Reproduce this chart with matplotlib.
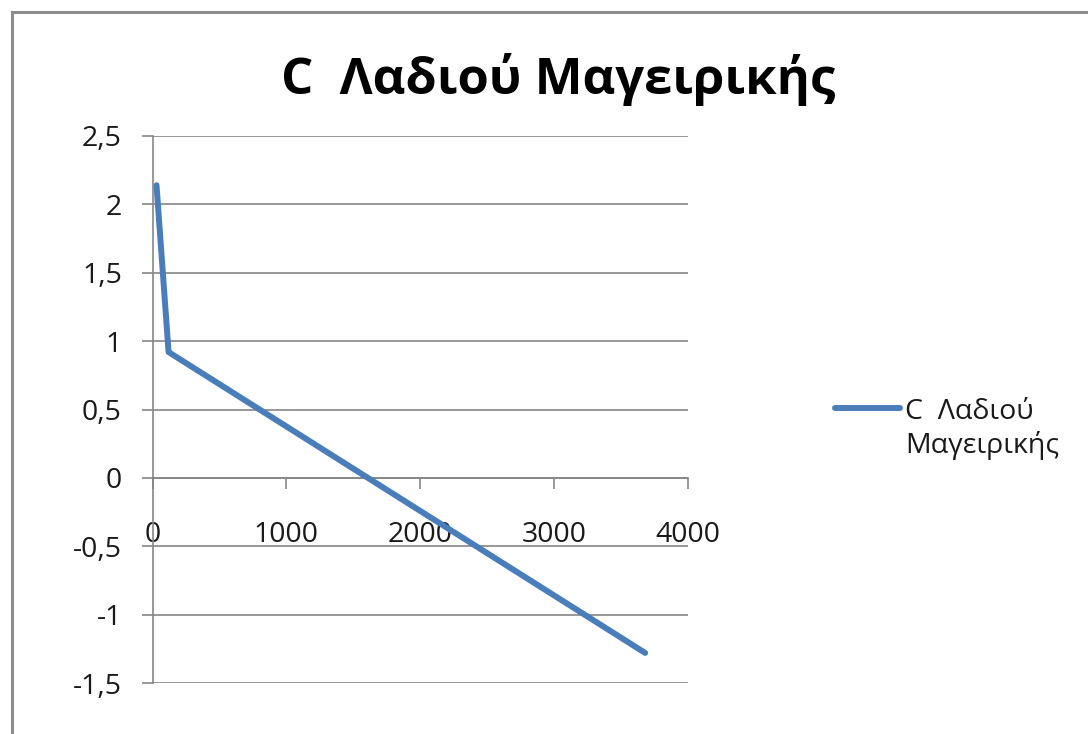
import matplotlib
matplotlib.use("Agg")
import matplotlib.pyplot as plt
from matplotlib.lines import Line2D
from matplotlib.patches import Rectangle

title = "C  Λαδιού Μαγειρικής"
series_name = "C  Λαδιού\nΜαγειρικής"
x_vals = [30, 120, 3680]
y_vals = [2.14, 0.92, -1.28]
x_ticks = [0, 1000, 2000, 3000, 4000]
x_tick_labels = ["0", "1000", "2000", "3000", "4000"]
y_ticks = [-1.5, -1, -0.5, 0, 0.5, 1, 1.5, 2, 2.5]
y_tick_labels = ["-1,5", "-1", "-0,5", "0", "0,5", "1", "1,5", "2", "2,5"]

FONT = ["Open Sans", "DejaVu Sans"]
plt.rcParams['font.family'] = FONT
W, H = 1088, 734
fig = plt.figure(figsize=(W / 100, H / 100), dpi=100)
fig.patch.set_facecolor("white")

# outer chart frame
fig.add_artist(Rectangle((12 / W, -0.1), 1.2, 1 - 12 / H + 0.1, transform=fig.transFigure,
                         fill=False, edgecolor="#8c8c8c", linewidth=2.2))

ax = fig.add_axes([152.5 / W, 1 - 683 / H, (688 - 152.5) / W, (683 - 136) / H])
ax.set_xlim(0, 4000)
ax.set_ylim(-1.5, 2.5)
ax.plot(x_vals, y_vals, color="#4a7ebb", linewidth=4.3, solid_capstyle="round",
        solid_joinstyle="round", zorder=3)

grid_c = "#868686"
txt_c = "#1a1a1a"
ax.set_yticks(y_ticks)
ax.set_yticklabels(y_tick_labels)
ax.set_xticks(x_ticks)
ax.set_xticklabels(x_tick_labels)
ax.yaxis.grid(True, color=grid_c, linewidth=1.2)
ax.set_axisbelow(True)
for s in ["top", "right"]:
    ax.spines[s].set_visible(False)
ax.spines["left"].set_color(grid_c)
ax.spines["left"].set_linewidth(1.2)
ax.spines["bottom"].set_position(("data", 0))
ax.spines["bottom"].set_color(grid_c)
ax.spines["bottom"].set_linewidth(1.2)
ax.tick_params(axis="y", length=8, width=1.2, color=grid_c, labelsize=20.5, pad=14, labelcolor=txt_c)
ax.tick_params(axis="x", length=8, width=1.2, color=grid_c, labelsize=20.5, pad=23, labelcolor=txt_c)

fig.text(558 / W, 1 - 80 / H, title, ha="center", va="center", fontsize=36.5, fontweight="bold", color="black")

# legend
fig.add_artist(Line2D([835 / W, 900 / W], [1 - 408 / H, 1 - 408 / H], transform=fig.transFigure,
                      color="#4a7ebb", linewidth=4.3, solid_capstyle="round"))
fig.text(905 / W, 1 - 429 / H, series_name, ha="left", va="center", fontsize=20.5,
         color=txt_c, linespacing=1.25)

fig.savefig("out.png", dpi=100, facecolor="white")
